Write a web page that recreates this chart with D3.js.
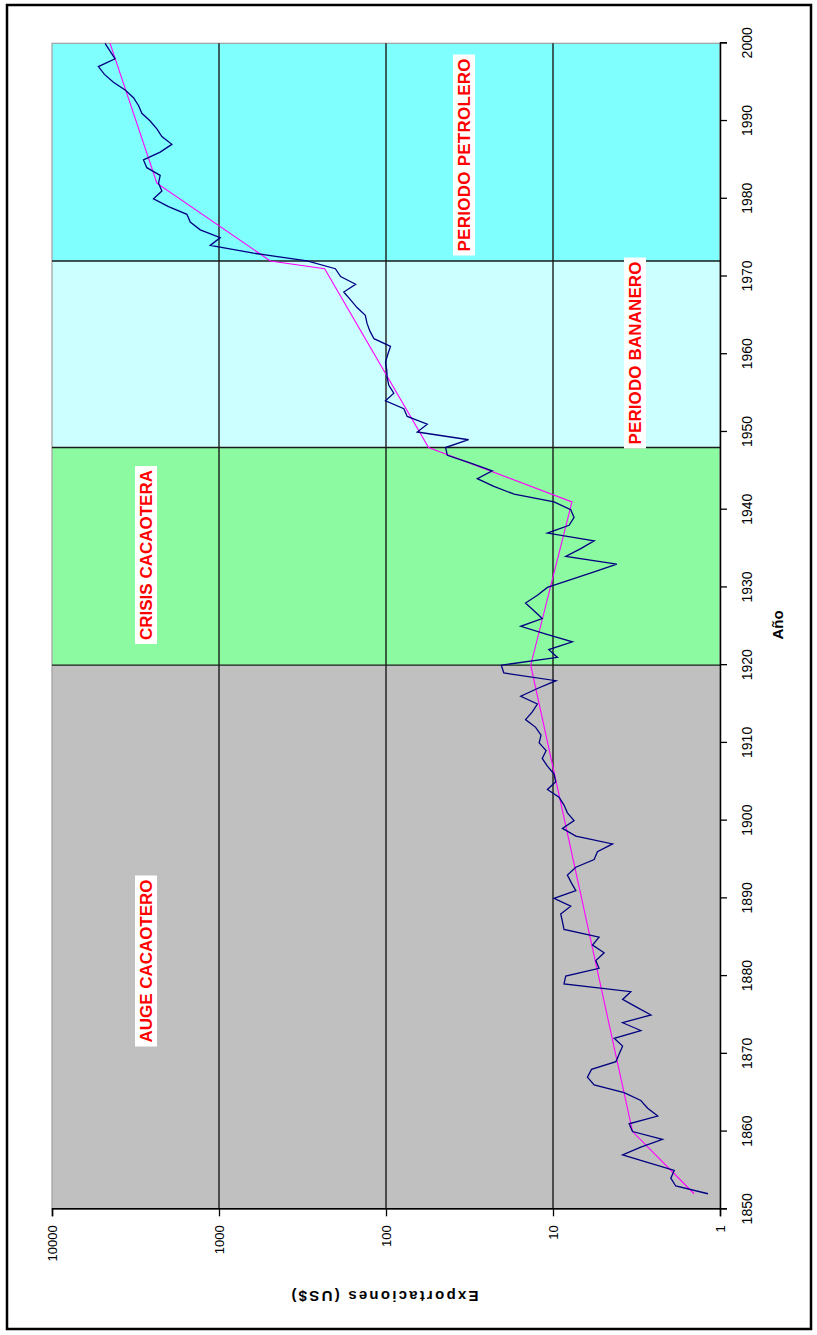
<!DOCTYPE html>
<html>
<head>
<meta charset="utf-8">
<script src="https://cdn.jsdelivr.net/npm/d3@7"></script>
<style>
  body { margin: 0; background: #fff; }
  svg { display: block; }
</style>
</head>
<body>
<svg id="chart" width="817" height="1335"></svg>
<script>
// Annual exports (US$), 1852-2000
const exportYears = d3.range(1852, 2001);
const exportValues = [
  1.18, 1.84, 1.97, 1.88, 2.69, 3.83, 2.98, 2.21, 3.34, 3.50,   // 1852-1861
  2.36, 2.71, 2.98, 3.75, 5.67, 6.22, 5.88, 4.20, 4.01, 3.83,   // 1862-1871
  4.30, 2.98, 3.83, 2.59, 3.16, 3.83, 3.42, 8.59, 8.39, 5.30,   // 1872-1881
  5.54, 4.94, 5.80, 5.30, 8.59, 8.78, 8.99, 7.83, 9.86, 7.30,   // 1882-1891
  7.76, 8.20, 7.30, 5.67, 5.42, 4.40, 7.30, 8.78, 7.48, 8.20,   // 1892-1901
  8.59, 9.20, 10.8, 9.63, 9.86, 10.8, 11.6, 11.0, 12.1, 11.8,   // 1902-1911
  12.7, 14.6, 13.3, 12.4, 15.6, 12.4, 9.6, 19.7, 20.4, 9.4,     // 1912-1921
  10.6, 7.65, 11.0, 15.6, 11.6, 13.0, 14.6, 12.4, 10.8, 7.83,   // 1922-1931
  5.67, 4.15, 8.39, 6.82, 5.67, 10.8, 8.01, 7.48, 7.83, 9.86,   // 1932-1941
  17.1, 22.6, 28.4, 23.1, 31.1, 42.9, 44.0, 32.0, 65.0, 56.6,   // 1942-1951
  74.6, 78.2, 100.7, 89.8, 96.2, 98.4, 99.0, 100.7, 97.5, 94.0, // 1952-1961
  118, 125, 130, 133, 149, 163, 179, 152, 187, 201,             // 1962-1971
  297, 621, 1128, 983, 1295, 1487, 1557, 2005, 2467, 2198,      // 1972-1981
  2301, 2250, 2705, 2833, 2250, 1915, 2198, 2355, 2583, 2898,   // 1982-1991
  3034, 3251, 3647, 4286, 4852, 5272, 4190, 4490, 4810          // 1992-2000
];

// Trend line, one straight piece per stretch
const trendYears  = [1852, 1860, 1920, 1941, 1948, 1971, 1972, 1982, 2000];
const trendValues = [1.43, 3.34, 13.6, 7.7, 55.6, 233, 493, 2355, 4490];

// Historical periods
const periodNames  = ["AUGE CACAOTERO", "CRISIS CACAOTERA", "PERIODO BANANERO", "PERIODO PETROLERO"];
const periodStarts = [1850, 1920, 1948, 1972];
const periodEnds   = [1920, 1948, 1972, 2000];
const periodColors = ["#c0c0c0", "#8cfaa0", "#ccffff", "#80ffff"];

const yearTicks  = d3.range(1850, 2001, 10);
const valueTicks = [1, 10, 100, 1000, 10000];

// Label boxes: centre (along year axis, across value axis) and text length
const labelLayout = [
  { cx: 374,  cy: 146, len: 163 },
  { cx: 780,  cy: 146, len: 170 },
  { cx: 982,  cy: 635, len: 183 },
  { cx: 1180, cy: 464, len: 193 }
];

const svg = d3.select("#chart");

// outer frame
svg.append("rect")
  .attr("x", 7).attr("y", 5).attr("width", 804).attr("height", 1324)
  .attr("fill", "none").attr("stroke", "#000").attr("stroke-width", 2.5);

// The chart is laid out landscape (1335 x 817) and turned a quarter turn
const LW = 1335;
const g = svg.append("g").attr("transform", `translate(0,${LW}) rotate(-90)`);

const plot = { left: 125.7, right: 1291.7, top: 52, bottom: 720 };

const x = d3.scaleLinear().domain([1850, 2000]).range([plot.left, plot.right]);
const y = d3.scaleLog().domain([1, 10000]).range([plot.bottom, plot.top]);

// period backgrounds
g.selectAll("rect.period")
  .data(periodNames)
  .join("rect")
  .attr("class", "period")
  .attr("x", (d, i) => x(periodStarts[i]))
  .attr("width", (d, i) => x(periodEnds[i]) - x(periodStarts[i]))
  .attr("y", plot.top)
  .attr("height", plot.bottom - plot.top)
  .attr("fill", (d, i) => periodColors[i]);

// plot border
g.append("rect")
  .attr("x", plot.left).attr("y", plot.top)
  .attr("width", plot.right - plot.left).attr("height", plot.bottom - plot.top)
  .attr("fill", "none").attr("stroke", "#a0a0a0").attr("stroke-width", 1.2);

// horizontal gridlines at the decades
g.selectAll("line.grid")
  .data(valueTicks.filter(v => v > 1 && v < 10000))
  .join("line")
  .attr("class", "grid")
  .attr("x1", plot.left).attr("x2", plot.right)
  .attr("y1", d => y(d)).attr("y2", d => y(d))
  .attr("stroke", "#1a1a1a").attr("stroke-width", 1.4);

// period boundaries
g.selectAll("line.bound")
  .data(periodStarts.slice(1))
  .join("line")
  .attr("class", "bound")
  .attr("x1", d => x(d)).attr("x2", d => x(d))
  .attr("y1", plot.top).attr("y2", plot.bottom)
  .attr("stroke", "#1a1a1a").attr("stroke-width", 1.4);

// period labels
const labels = g.selectAll("g.plabel")
  .data(periodNames)
  .join("g")
  .attr("class", "plabel")
  .attr("transform", (d, i) => `translate(${labelLayout[i].cx},${labelLayout[i].cy})`);
labels.append("rect")
  .attr("x", (d, i) => -labelLayout[i].len / 2 - 4)
  .attr("width", (d, i) => labelLayout[i].len + 8)
  .attr("y", -11).attr("height", 22)
  .attr("fill", "#fff");
labels.append("text")
  .attr("text-anchor", "middle")
  .attr("dy", "0.36em")
  .attr("textLength", (d, i) => labelLayout[i].len)
  .attr("lengthAdjust", "spacing")
  .attr("font-family", "'Liberation Sans Narrow', 'Arial Narrow', 'Liberation Sans', sans-serif")
  .attr("font-weight", "bold")
  .attr("font-size", 17)
  .attr("fill", "#ff0000")
  .text(d => d);

// trend line
g.append("path")
  .datum(trendYears.map((yr, i) => [yr, trendValues[i]]))
  .attr("fill", "none")
  .attr("stroke", "#ff00ff")
  .attr("stroke-width", 1.1)
  .attr("d", d3.line().x(d => x(d[0])).y(d => y(d[1])));

// exports line
g.append("path")
  .datum(exportYears.map((yr, i) => [yr, exportValues[i]]))
  .attr("fill", "none")
  .attr("stroke", "#000080")
  .attr("stroke-width", 1.3)
  .attr("stroke-linejoin", "miter")
  .attr("d", d3.line().x(d => x(d[0])).y(d => y(d[1])));

// year axis
const xAxis = g.append("g")
  .attr("transform", `translate(0,${plot.bottom})`)
  .call(d3.axisBottom(x).tickValues(yearTicks).tickSize(7).tickFormat(d3.format("d")));
// value axis
const yAxis = g.append("g")
  .attr("transform", `translate(${plot.left},0)`)
  .call(d3.axisLeft(y).tickValues(valueTicks).tickSize(7).tickFormat(d3.format("d")));

[xAxis, yAxis].forEach(a => {
  a.select(".domain").attr("stroke", "#000").attr("stroke-width", 1.5);
  a.selectAll(".tick line").attr("stroke", "#000").attr("stroke-width", 1.3);
  a.selectAll(".tick text")
    .attr("fill", "#000")
    .attr("font-family", "'Liberation Sans', Arial, sans-serif");
});
xAxis.selectAll(".tick text").attr("font-size", 14).attr("y", 27).attr("dy", "0.35em");
yAxis.selectAll(".tick text").attr("font-size", 13).attr("x", -16).attr("dy", "0.35em");

// axis titles
g.append("text")
  .attr("x", 710).attr("y", 778).attr("dy", "0.35em")
  .attr("text-anchor", "middle")
  .attr("font-family", "'Liberation Sans', Arial, sans-serif")
  .attr("font-weight", "bold").attr("font-size", 15)
  .text("Año");

g.append("text")
  .attr("transform", "translate(39,385) rotate(-90)")
  .attr("dy", "0.35em")
  .attr("text-anchor", "middle")
  .attr("textLength", 187).attr("lengthAdjust", "spacing")
  .attr("font-family", "'Liberation Sans', Arial, sans-serif")
  .attr("font-weight", "bold").attr("font-size", 15)
  .text("Exportaciones (US$)");
</script>
</body>
</html>
